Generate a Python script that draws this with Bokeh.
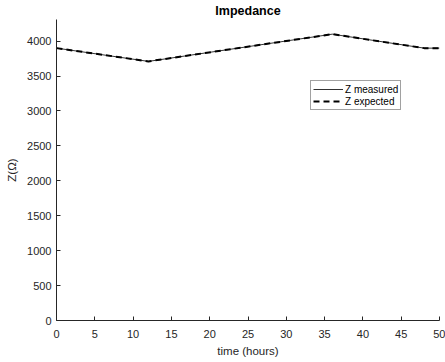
from bokeh.plotting import figure
from bokeh.models import Range1d, Legend, LegendItem
from bokeh.embed import file_html
from bokeh.resources import INLINE

time_hours = [0, 12, 36, 48, 50]
z_measured = [3900, 3710, 4100, 3900, 3900]
z_expected = [3900, 3710, 4100, 3900, 3900]
x_ticks = [0, 5, 10, 15, 20, 25, 30, 35, 40, 45, 50]
y_ticks = [0, 500, 1000, 1500, 2000, 2500, 3000, 3500, 4000]

FONT = "Liberation Sans"
GRAY = "#262626"

p = figure(width=445, height=362, output_backend="svg", toolbar_location=None,
           x_range=Range1d(0, 50), y_range=Range1d(0, 4310),
           min_border_left=56, min_border_right=6, min_border_top=0, min_border_bottom=42)
p.outline_line_color = None
p.grid.visible = False
p.background_fill_color = "white"
p.border_fill_color = "white"

p.title.text = "Impedance"
p.title.align = "center"
p.title.text_font = FONT
p.title.text_font_size = "12.5px"
p.title.text_font_style = "bold"
p.title.text_color = "black"
p.title.standoff = 3
p.title.offset = 0

r1 = p.line(time_hours, z_measured, line_color="#333333", line_width=1)
r2 = p.line(time_hours, z_expected, line_color="black", line_width=2, line_dash="6 4")

for ax in (p.xaxis[0], p.yaxis[0]):
    ax.axis_line_color = GRAY
    ax.major_tick_line_color = GRAY
    ax.major_tick_in = 4
    ax.major_tick_out = 0
    ax.minor_tick_line_color = None
    ax.major_label_text_font = FONT
    ax.major_label_text_font_size = "11px"
    ax.major_label_text_color = GRAY
    ax.axis_label_text_font = FONT
    ax.axis_label_text_font_size = "11.5px"
    ax.axis_label_text_font_style = "normal"
    ax.axis_label_text_color = GRAY

p.xaxis.ticker = x_ticks
p.yaxis.ticker = y_ticks
p.xaxis.axis_label = "time (hours)"
p.yaxis.axis_label = "Z(Ω)"
p.xaxis.major_label_standoff = 9
p.yaxis.major_label_standoff = 5
p.xaxis.axis_label_standoff = 4
p.yaxis.axis_label_standoff = 6

legend = Legend(items=[LegendItem(label="Z measured", renderers=[r1]),
                       LegendItem(label="Z expected", renderers=[r2])],
                location=(254, 210), orientation="vertical",
                label_text_font=FONT, label_text_font_size="10px", label_text_color="black",
                glyph_width=30, glyph_height=12, label_standoff=2, spacing=0,
                padding=2, margin=0, border_line_color="#444444", border_line_width=1,
                label_height=12)
p.add_layout(legend)

open("out.html", "w").write(file_html(p, INLINE))
